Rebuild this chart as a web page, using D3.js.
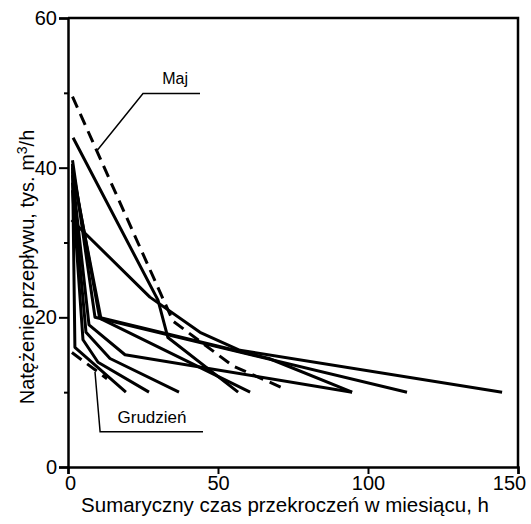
<!DOCTYPE html>
<html>
<head>
<meta charset="utf-8">
<script src="https://cdn.jsdelivr.net/npm/d3@7"></script>
<style>
  body { margin: 0; background: #fff; }
  text { font-family: "Liberation Sans", Arial, sans-serif; fill: #000; }
</style>
</head>
<body>
<div id="chart"></div>
<script>
(function () {

  // monthly curves: [hours, flow] break points
  const lineMaj = [[1.5, 49.5], [35, 19.5], [55, 13.5], [73, 10.3]]
  const lineA = [[1.7, 44], [30, 22.3], [33.3, 17.3], [56.7, 10]]
  const lineB = [[1.2, 33], [27.3, 22.7], [44, 18], [57.3, 15.6], [144.7, 10]]
  const lineC = [[1.5, 41], [9, 20], [113, 10]]
  const lineD = [[1.5, 40], [10.5, 20], [67, 14.5], [94.7, 10]]
  const lineE = [[1.5, 39.5], [11, 19.8], [60.7, 10]]
  const lineF = [[1.5, 39], [7, 19], [19, 15], [94.7, 10]]
  const lineG = [[1.5, 38], [6, 18], [14, 14.5], [37, 10]]
  const lineH = [[1.5, 37], [5, 17], [10, 14], [27, 10]]
  const lineGrudzien = [[1.5, 40.5], [2.3, 16], [19.3, 10]]
  const lineGrudzienDash = [[1.3, 15.3], [13, 11.8]]

  const solidLines = [lineA, lineB, lineC, lineD, lineE, lineF, lineG, lineH, lineGrudzien]
  const dashedLines = [lineMaj, lineGrudzienDash]

  const xTicks = [0, 50, 100, 150]
  const yTicks = [0, 20, 40, 60]
  const yMinorTicks = [10, 30, 50]

  const width = 531
  const height = 524

  const svg = d3.select("#chart").append("svg")
    .attr("width", width)
    .attr("height", height)

  const x = d3.scaleLinear().domain([0, 150]).range([68, 518])
  const y = d3.scaleLinear().domain([0, 60]).range([467, 18])

  const line = d3.line()
    .x(d => x(d[0]))
    .y(d => y(d[1]))

  // frame on top and right
  svg.append("path")
    .attr("d", `M${x(0)},${y(60)}H${x(150)}V${y(0)}`)
    .attr("fill", "none")
    .attr("stroke", "#000")
    .attr("stroke-width", 2.5)

  const xAxis = d3.axisBottom(x)
    .tickValues(xTicks)
    .tickSize(7)
    .tickPadding(2)
  svg.append("g")
    .attr("transform", "translate(0," + y(0) + ")")
    .call(xAxis)
    .call(g => g.select(".domain").attr("stroke-width", 2.5))
    .call(g => g.selectAll(".tick line").attr("stroke-width", 2))
    .call(g => g.selectAll("text").attr("font-size", 20).attr("fill", "#000"))
    .call(g => g.selectAll("text").filter(d => d === 150).attr("dx", -9))
    .call(g => g.selectAll("text").filter(d => d === 0).attr("dx", 2))

  const yAxis = d3.axisLeft(y)
    .tickValues(yTicks)
    .tickSize(9)
    .tickPadding(2)
  svg.append("g")
    .attr("transform", "translate(" + x(0) + ",0)")
    .call(yAxis)
    .call(g => g.select(".domain").attr("stroke-width", 2.5))
    .call(g => g.selectAll(".tick line").attr("stroke-width", 2))
    .call(g => g.selectAll("text").attr("font-size", 20).attr("fill", "#000"))

  svg.append("g")
    .attr("transform", "translate(" + x(0) + ",0)")
    .call(d3.axisLeft(y).tickValues(yMinorTicks).tickSize(4).tickFormat(""))
    .call(g => g.select(".domain").remove())
    .call(g => g.selectAll(".tick line").attr("stroke-width", 2))

  // curves
  svg.selectAll(".solid")
    .data(solidLines)
    .join("path")
    .attr("class", "solid")
    .attr("d", line)
    .attr("fill", "none")
    .attr("stroke", "#000")
    .attr("stroke-width", 3)
    .attr("stroke-linejoin", "round")

  svg.selectAll(".dashed")
    .data(dashedLines)
    .join("path")
    .attr("class", "dashed")
    .attr("d", line)
    .attr("fill", "none")
    .attr("stroke", "#000")
    .attr("stroke-width", 3)
    .attr("stroke-dasharray", "12,7")

  // month callouts
  const pointerMaj = [[9.7, 42.3], [25, 49.9], [44, 49.9]]
  const pointerGrudzien = [[9, 12.7], [10.7, 4.7], [45, 4.7]]

  svg.selectAll(".pointer")
    .data([pointerMaj, pointerGrudzien])
    .join("path")
    .attr("class", "pointer")
    .attr("d", line)
    .attr("fill", "none")
    .attr("stroke", "#000")
    .attr("stroke-width", 1.5)

  svg.append("text")
    .attr("x", x(35.7))
    .attr("y", y(52) + 6)
    .attr("text-anchor", "middle")
    .attr("font-size", 16)
    .text("Maj")

  svg.append("text")
    .attr("x", x(28))
    .attr("y", y(6.7) + 6)
    .attr("text-anchor", "middle")
    .attr("font-size", 17)
    .text("Grudzień")

  // axis titles
  svg.append("text")
    .attr("x", 285)
    .attr("y", 512)
    .attr("text-anchor", "middle")
    .attr("font-size", 20.5)
    .text("Sumaryczny czas przekroczeń w miesiącu, h")

  const yTitle = svg.append("text")
    .attr("transform", "translate(34,267) rotate(-90)")
    .attr("text-anchor", "middle")
    .attr("font-size", 20)
  yTitle.append("tspan").text("Natężenie przepływu, tys. m")
  yTitle.append("tspan").attr("font-size", 14).attr("dy", -7).text("3")
  yTitle.append("tspan").attr("dy", 7).text("/h")

})();
</script>
</body>
</html>
